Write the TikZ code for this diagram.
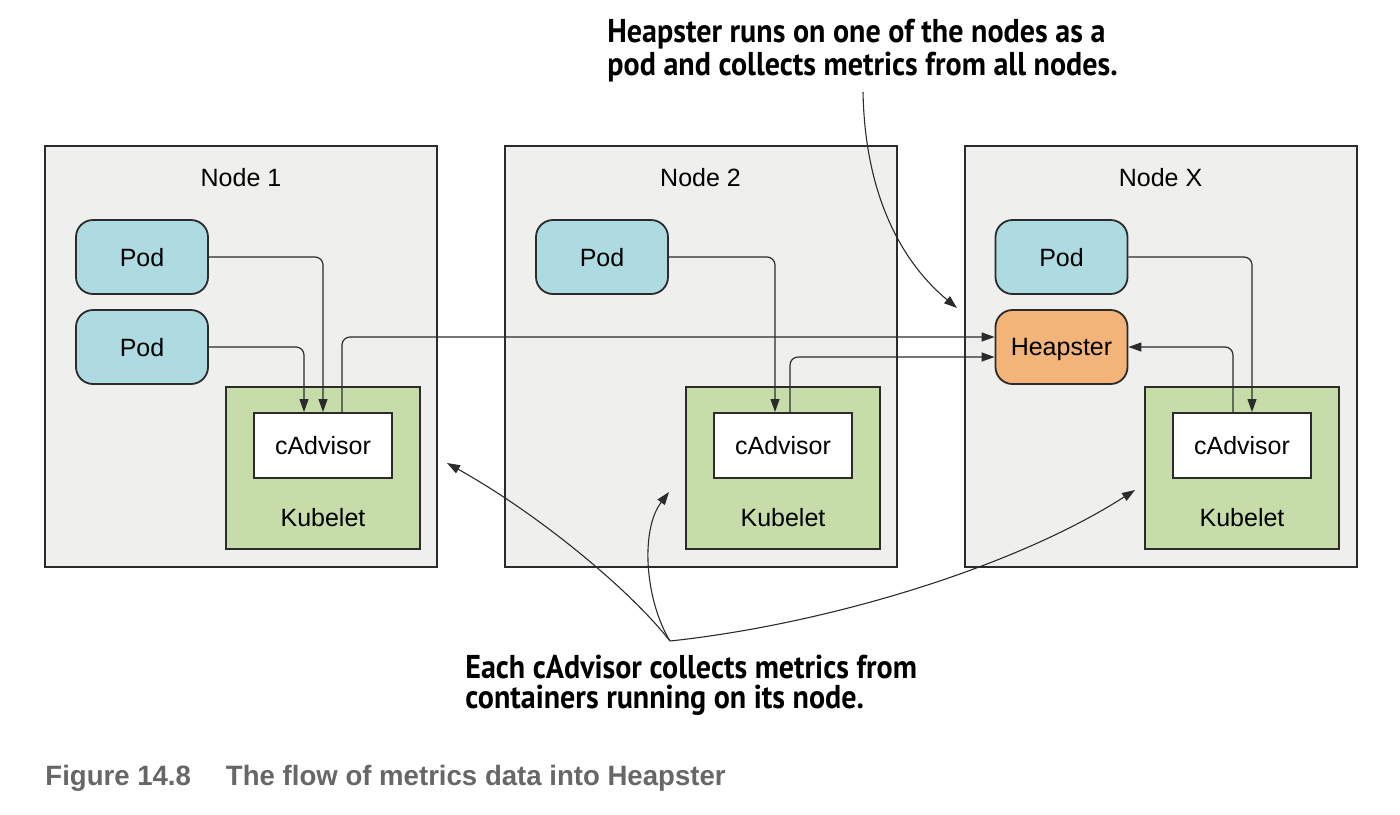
\documentclass[tikz,border=0pt]{standalone}
\usepackage{fontspec}
\setmainfont{Liberation Sans}
\newfontfamily\notefont{PT Sans}[FakeStretch=0.91]
\newfontfamily\capfont{Liberation Sans}[FakeStretch=0.985]
\usetikzlibrary{arrows.meta}
\definecolor{nodegray}{HTML}{EFEFED}
\definecolor{podblue}{HTML}{AEDBE1}
\definecolor{heaporange}{HTML}{F3B479}
\definecolor{kubegreen}{HTML}{C6DDAA}
\definecolor{linec}{HTML}{2B2B2B}
\definecolor{capgray}{HTML}{676767}
\begin{document}
\begin{tikzpicture}[x=0.5pt,y=-0.5pt,
  every node/.style={font=\fontsize{12.5}{15}\selectfont, text=black},
  hostbox/.style={draw=linec, line width=1pt, fill=nodegray, minimum width=196pt, minimum height=210.5pt, inner sep=0pt},
  podbox/.style={draw=linec, line width=0.9pt, fill=podblue, rounded corners=8.5pt, minimum width=66pt, minimum height=37pt, inner sep=0pt, text depth=0pt},
  heapbox/.style={podbox, fill=heaporange},
  kubebox/.style={draw=linec, line width=1pt, fill=kubegreen, minimum width=97pt, minimum height=81pt, inner sep=0pt},
  cadvbox/.style={draw=linec, line width=1pt, fill=white, minimum width=69pt, minimum height=32.5pt, inner sep=0pt},
  flow/.style={draw=linec, line width=0.6pt, rounded corners=4pt, -{Triangle[length=6.5pt,width=4.5pt]}},
  callout/.style={draw=linec, line width=0.55pt, -{Triangle[length=6.5pt,width=4.5pt]}},
  notetext/.style={font=\notefont\bfseries\fontsize{16.5}{15}\selectfont, align=left, inner sep=0pt, anchor=base west},
  captext/.style={font=\capfont\bfseries\fontsize{14}{16}\selectfont, text=capgray, inner sep=0pt, anchor=base west}
]
\useasboundingbox (0,0) rectangle (1400,814);

% host boxes
\node[hostbox] (host1) at (241,356.5) {};
\node[hostbox] (host2) at (700.5,356.5) {};
\node[hostbox] (hostX) at (1160.5,356.5) {};
\node (title1) at (241,178) {Node 1};
\node (title2) at (700.5,178) {Node 2};
\node (titleX) at (1160.5,178) {Node X};

% kubelets
\node[kubebox] (kub1) at (323,468) {};
\node[kubebox] (kub2) at (783,468) {};
\node[kubebox] (kubX) at (1242,468) {};
\node (kub1l) at (323,518) {Kubelet};
\node (kub2l) at (783,518) {Kubelet};
\node (kubXl) at (1242,518) {Kubelet};

% cAdvisors
\node[cadvbox] (cadv1) at (323,445.5) {cAdvisor};
\node[cadvbox] (cadv2) at (783,445.5) {cAdvisor};
\node[cadvbox] (cadvX) at (1242,445.5) {cAdvisor};

% pods
\node[podbox] (podA1) at (142,257) {Pod};
\node[podbox] (podB1) at (142,347) {Pod};
\node[podbox] (pod2) at (602,257) {Pod};
\node[podbox] (podX) at (1061.5,257) {Pod};
\node[heapbox] (heap) at (1061.5,347) {Heapster};

% flows
\draw[flow] (podA1.east) -| (cadv1.north);
\draw[flow] (podB1.east) -| ([xshift=-9.5pt]cadv1.north);
\draw[flow] ([xshift=9.5pt]cadv1.north) |- ([yshift=5pt]heap.west);
\draw[flow] (pod2.east) -| ([xshift=-4pt]cadv2.north);
\draw[flow] ([xshift=3.5pt]cadv2.north) |- ([yshift=-5pt]heap.west);
\draw[flow] (podX.east) -| ([xshift=5pt]cadvX.north);
\draw[flow] ([xshift=-4.5pt]cadvX.north) |- (heap.east);

% notes (anchor = baseline of the last line)
\node[notetext] (heapnote) at (607,75) {Heapster runs on one of the nodes as a\\pod and collects metrics from all nodes.};
\node[notetext] (cadvnote) at (465,708) {Each cAdvisor collects metrics from\\containers running on its node.};

\coordinate (topstart) at (863,92);
\coordinate (heaptip) at (957,308);
\draw[callout] (topstart) .. controls (865,200) and (905,265) .. (heaptip);

\coordinate (cmeet) at (670,641);
\coordinate (tip1) at (447,463);
\coordinate (tip2) at (669,492);
\coordinate (tipX) at (1135,490);
\draw[callout] (cmeet) .. controls (630,590) and (540,515) .. (tip1);
\draw[callout] (cmeet) .. controls (645,600) and (640,530) .. (tip2);
\draw[callout] (cmeet) .. controls (820,625) and (1010,570) .. (tipX);

% caption
\node[captext] (caption) at (45,785) {Figure 14.8\hspace{17.5pt}The flow of metrics data into Heapster};
\end{tikzpicture}
\end{document}
